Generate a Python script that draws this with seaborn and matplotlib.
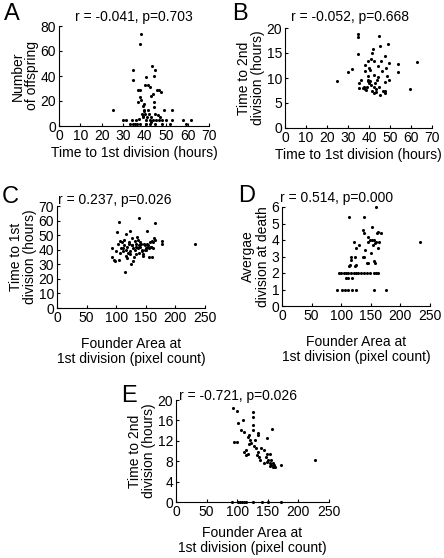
import numpy as np
import pandas as pd
import matplotlib
matplotlib.use('Agg')
import matplotlib.pyplot as plt
import seaborn as sns

# A: time to 1st division vs number of offspring
a_x = [25, 38.4, 38, 34.5, 34.5, 43.5, 44.6, 40.7, 36.9, 37.7, 40, 41.5, 42.3, 43, 44, 45.5, 46.7,
       47.7, 44.2, 37.6, 38.4, 39.2, 39.5, 37, 44.2, 48.8, 52.9, 29.9, 31.4, 34.2, 36, 33, 34.5,
       39.2, 40.7, 42.3, 43.9, 45.4, 46.7, 48.2, 40.7, 42.3, 45, 48.2, 51.6, 52.9, 58, 61.7, 59.4,
       40, 42, 38.5, 39.5, 45, 46, 39, 41, 43, 36.5, 38, 47, 50, 41.5, 44.5, 39.8, 37.2, 42.8, 35.5]
a_y = [13, 74, 66, 45, 37, 48, 45, 39, 29, 29, 33, 33, 31, 24, 26, 29, 29,
       27, 40, 23, 21, 16, 13, 19, 15, 13, 13, 5, 5, 5, 5, 2, 2,
       7, 5, 5, 5, 5, 5, 5, 2, 2, 2, 2, 2, 5, 5, 5, 2,
       10, 10, 10, 12, 10, 9, 8, 7, 7, 2, 2, 7, 5, 13, 19, 18, 6, 3, 2]

# B: time to 1st division vs time to 2nd division
b_x = [24.6, 29.9, 32.1, 34.7, 34.7, 34.7, 35, 35.3, 38.2, 37.9, 37.4, 38.5, 38.9, 39.4, 39.7,
       40.6, 40.1, 40.7, 39.4, 40.9, 41.3, 41.7, 42.2, 42.2, 42.9, 43.2, 42.6, 43.7, 44.2, 44.5,
       44.9, 44.9, 45.3, 45.8, 46.1, 45.3, 47.4, 47.7, 48, 48.5, 49, 49.3, 47.4, 47.7, 49.3,
       53.7, 53.7, 63, 59.6, 36.3, 39.7, 41.3, 42.2, 37, 38, 40.2, 41, 43.5, 46.5]
b_y = [9.4, 11.1, 11.7, 18.8, 18.2, 14.8, 8.9, 7.9, 12.6, 11.3, 8.1, 7.6, 8.1, 9.6, 9.3,
       9.4, 11.9, 11.6, 13.3, 13.8, 15, 15.8, 13.3, 10.6, 8.9, 7.7, 6.9, 9.6, 12.3, 10.2,
       8.2, 18.3, 16.3, 13.3, 11.3, 6.6, 9.1, 14.4, 12.0, 10.3, 16.8, 9.6, 7.4, 7, 12.9,
       12.7, 11.1, 13.1, 7.7, 9.6, 10.3, 7.4, 8.2, 8.0, 7.8, 9.0, 8.5, 7.2, 7.4]

# C: founder area vs time to 1st division
c_x = [105, 138, 166, 152, 101, 117, 124, 233, 115, 93, 93, 96, 98, 104, 107, 110, 114, 117,
       121, 124, 126, 128, 130, 134, 135, 138, 140, 143, 146, 149, 152, 155, 157, 160, 163, 164,
       177, 177, 156, 161, 125, 129, 118, 103, 108, 112, 119, 122, 127, 131, 133, 137, 141, 144,
       147, 150, 153, 158, 162, 165, 100, 111, 116, 123, 132, 139, 145, 151, 159, 106, 120, 136,
       142, 148, 154, 113, 126, 134]
c_y = [59, 62, 58, 53, 52, 51, 53, 44, 25, 41, 35, 33, 32, 33, 38, 45, 43, 40,
       44, 37, 48, 41, 35, 42, 49, 38, 45, 40, 36, 43, 44, 41, 45, 46, 41, 48,
       46, 44, 35, 35, 30, 32, 34, 44, 41, 39, 42, 45, 43, 40, 44, 47, 42, 39,
       44, 41, 43, 42, 45, 47, 39, 41, 36, 39, 46, 43, 37, 40, 42, 46, 38, 41,
       44, 40, 42, 47, 43, 37]

# D: founder area vs average division at death
d_x = [92.7, 101, 106, 111, 118, 125, 155, 176,
       97, 100, 104, 108, 112, 117, 121, 125, 129, 134, 138, 143, 149, 155, 159, 162,
       108, 111, 118, 114, 139, 158, 152, 136, 138, 161, 163, 167, 149, 152, 155,
       121, 146, 158, 164, 157, 233, 130, 153, 125, 162, 140, 117, 124, 136, 139,
       116, 143, 146, 157, 115, 125, 113, 124, 155, 145, 150]
d_y = [1, 1, 1, 1, 1, 1, 1, 1,
       2, 2, 2, 2, 2, 2, 2, 2, 2, 2, 2, 2, 2, 2, 2, 2,
       1.7, 1.7, 1.7, 5.4, 5.4, 6, 4.8, 4.6, 4.4, 4.4, 4.5, 4.4, 4.0, 4.0, 4.0,
       3.9, 3.9, 3.9, 3.9, 3.8, 3.85, 3.7, 3.7, 3.5, 3.5, 3.4, 3.0, 3.0, 3.0, 3.0,
       2.8, 2.6, 2.6, 2.6, 2.5, 2.5, 2.4, 2.4, 2.7, 4.2, 3.2]

# E: founder area vs time to 2nd division
e_x = [93.5, 99, 101.6, 108.7, 107, 110.9, 95, 99, 125, 125, 125, 125, 119.6, 118, 121.7, 123,
       119.6, 128.8, 127, 115, 111, 114, 118, 131.5, 134, 133, 136, 138, 134, 134.8, 139.7,
       143.5, 146.7, 148, 148, 150.5, 153, 154, 157.6, 156, 158.7, 160, 161, 158.7, 156, 148,
       172, 226.6, 143, 154, 91, 102, 105, 108, 111, 115, 126, 140, 151, 172]
e_y = [18.4, 17.9, 15.5, 16.1, 14.1, 13.8, 11.7, 11.8, 17.7, 16.6, 15.1, 14.1, 13.1, 12.7, 12.1,
       11.6, 11.3, 12.1, 10.9, 10.2, 9.8, 9.2, 9.4, 10.6, 9.8, 9.2, 8.9, 8.2, 13.6, 13.1, 10.5,
       10.1, 8.9, 9.5, 12.5, 8.2, 7.7, 9.5, 14.4, 8.3, 7.7, 7.2, 6.9, 6.8, 7.2, 7.9,
       7.2, 8.2, 7.6, 7.0, 0, 0, 0, 0, 0, 0, 0, 0, 0, 0]

sns.set_style('ticks')
plt.rcParams['font.family'] = ['Liberation Sans', 'DejaVu Sans']
plt.rcParams['text.color'] = 'black'
plt.rcParams['axes.labelcolor'] = 'black'
plt.rcParams['xtick.color'] = 'black'
plt.rcParams['ytick.color'] = 'black'

W, H = 444, 558
fig = plt.figure(figsize=(W / 100, H / 100), dpi=100)


def make_ax(left, top, right, bottom):
    return fig.add_axes([left / W, 1 - bottom / H, (right - left) / W, (bottom - top) / H])


panels = [
    dict(box=(59, 26, 209, 126), x=a_x, y=a_y, xlim=(0, 70), xt=range(0, 71, 10),
         ylim=(0, 80), yt=range(0, 81, 20), xl='Time to 1st division (hours)',
         yl='Number\nof offspring', title='r = -0.041, p=0.703', tpos=(134, 17),
         letter='A', lpos=(4, 14), xpad=2),
    dict(box=(285, 28, 432, 128), x=b_x, y=b_y, xlim=(0, 70), xt=range(0, 71, 10),
         ylim=(0, 20), yt=range(0, 21, 5), xl='Time to 1st division (hours)',
         yl='Time to 2nd\ndivision (hours)', title='r = -0.052, p=0.668', tpos=(350, 17),
         letter='B', lpos=(232, 14), xpad=2),
    dict(box=(57, 206, 205, 308), x=c_x, y=c_y, xlim=(0, 250), xt=range(0, 251, 50),
         ylim=(0, 70), yt=range(0, 71, 10), xl='Founder Area at\n1st division (pixel count)',
         yl='Time to 1st\ndivision (hours)', title='r = 0.237, p=0.026', tpos=(115, 200),
         letter='C', lpos=(2, 197), xpad=9),
    dict(box=(282, 207, 430, 306), x=d_x, y=d_y, xlim=(0, 250), xt=range(0, 251, 50),
         ylim=(0, 6), yt=range(0, 7, 1), xl='Founder Area at\n1st division (pixel count)',
         yl='Avergae\ndivision at death', title='r = 0.514, p=0.000', tpos=(337, 198),
         letter='D', lpos=(238, 196), xpad=9),
    dict(box=(176, 400, 329, 502), x=e_x, y=e_y, xlim=(0, 250), xt=range(0, 251, 50),
         ylim=(0, 20), yt=range(0, 21, 4), xl='Founder Area at\n1st division (pixel count)',
         yl='Time to 2nd\ndivision (hours)', title='r = -0.721, p=0.026', tpos=(238, 396),
         letter='E', lpos=(121, 396), xpad=5),
]

for p in panels:
    ax = make_ax(*p['box'])
    df = pd.DataFrame({'x': p['x'], 'y': p['y']})
    sns.scatterplot(data=df, x='x', y='y', ax=ax, color='black', s=5,
                    linewidth=0, clip_on=False)
    ax.set_xlim(*p['xlim'])
    ax.set_ylim(*p['ylim'])
    ax.set_xticks(list(p['xt']))
    ax.set_yticks(list(p['yt']))
    ax.tick_params(direction='in', length=2.5, width=0.8, labelsize=10, pad=2)
    ax.set_xlabel(p['xl'], fontsize=10, labelpad=p['xpad'], linespacing=1.1)
    ax.set_ylabel(p['yl'], fontsize=10, labelpad=1, linespacing=1.05)
    sns.despine(ax=ax)
    for s in ['left', 'bottom']:
        ax.spines[s].set_linewidth(0.8)
        ax.spines[s].set_color('black')
    fig.text(p['tpos'][0] / W, 1 - p['tpos'][1] / H, p['title'], ha='center',
             va='center', fontsize=10)
    fig.text(p['lpos'][0] / W, 1 - p['lpos'][1] / H, p['letter'], ha='left',
             va='center', fontsize=17)

fig.savefig('out.png', dpi=100)
